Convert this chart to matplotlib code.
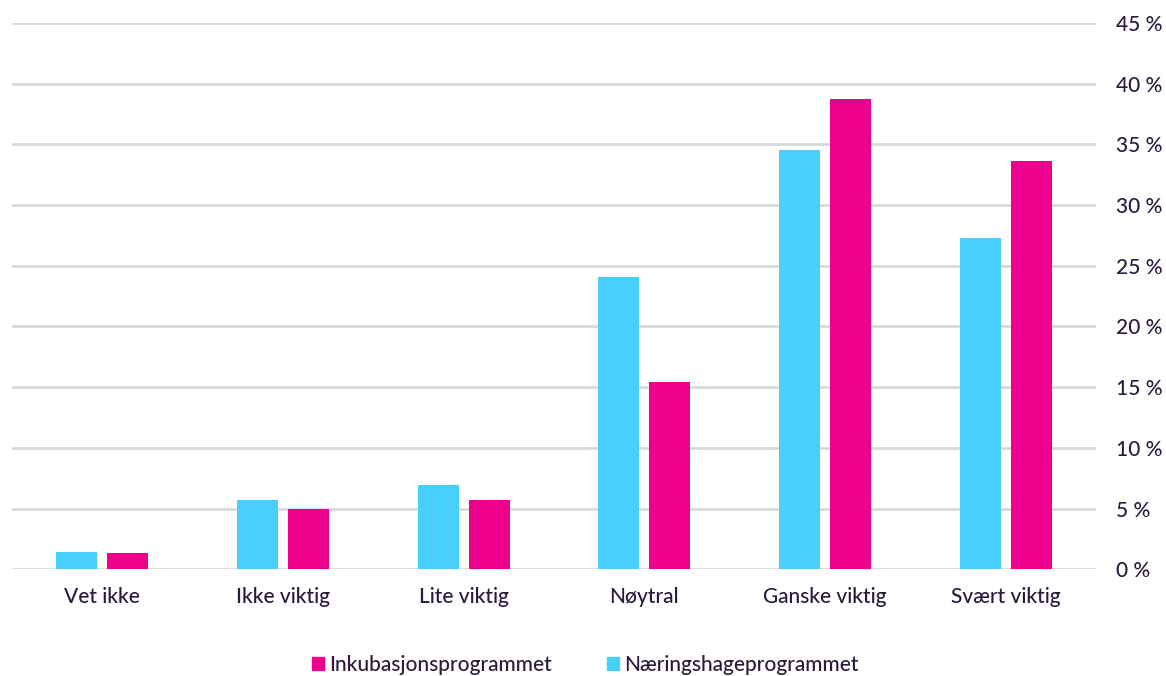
import numpy as np
import matplotlib.pyplot as plt
from matplotlib.patches import Patch

categories = ["Vet ikke", "Ikke viktig", "Lite viktig", "Nøytral", "Ganske viktig", "Svært viktig"]
naeringshage = [1.4, 5.7, 6.9, 24.1, 34.5, 27.3]
inkubasjon = [1.3, 5.0, 5.7, 15.4, 38.7, 33.6]
yticks = [0, 5, 10, 15, 20, 25, 30, 35, 40, 45]

CYAN = "#48CFFD"
MAGENTA = "#EC008C"
TEXT = "#2B1A3D"
GRID = "#D9D9D9"

plt.rcParams["font.family"] = ["Lato", "DejaVu Sans"]
plt.rcParams["font.weight"] = "medium"

fig = plt.figure(figsize=(11.66, 6.76), dpi=100)
ax = fig.add_axes([0.0103, 0.158, 0.9297, 0.808])

x = np.arange(len(categories))
w = 0.227
off = 0.141
ax.bar(x - off, naeringshage, width=w, color=CYAN, zorder=3)
ax.bar(x + off, inkubasjon, width=w, color=MAGENTA, zorder=3)

ax.set_xlim(-0.5, len(categories) - 0.5)
ax.set_ylim(0, 45)
ax.set_yticks(yticks)
ax.set_yticklabels([f"{v} %" for v in yticks])
ax.yaxis.tick_right()
ax.grid(axis="y", color=GRID, linewidth=2, zorder=0)
ax.tick_params(axis="y", length=0, pad=14.5, labelsize=15, labelcolor=TEXT)
ax.set_xticks(x)
ax.set_xticklabels(categories)
ax.tick_params(axis="x", length=0, pad=13, labelsize=15, labelcolor=TEXT)
for s in ax.spines.values():
    s.set_visible(False)

handles = [Patch(color=MAGENTA, label="Inkubasjonsprogrammet"),
           Patch(color=CYAN, label="Næringshageprogrammet")]
fig.legend(handles=handles, loc="center", bbox_to_anchor=(0.502, 0.016), ncol=2,
           frameon=False, fontsize=15, labelcolor=TEXT, handlelength=0.6,
           handleheight=0.6, handletextpad=0.25, columnspacing=2.6)

fig.savefig("out.png", dpi=100)
